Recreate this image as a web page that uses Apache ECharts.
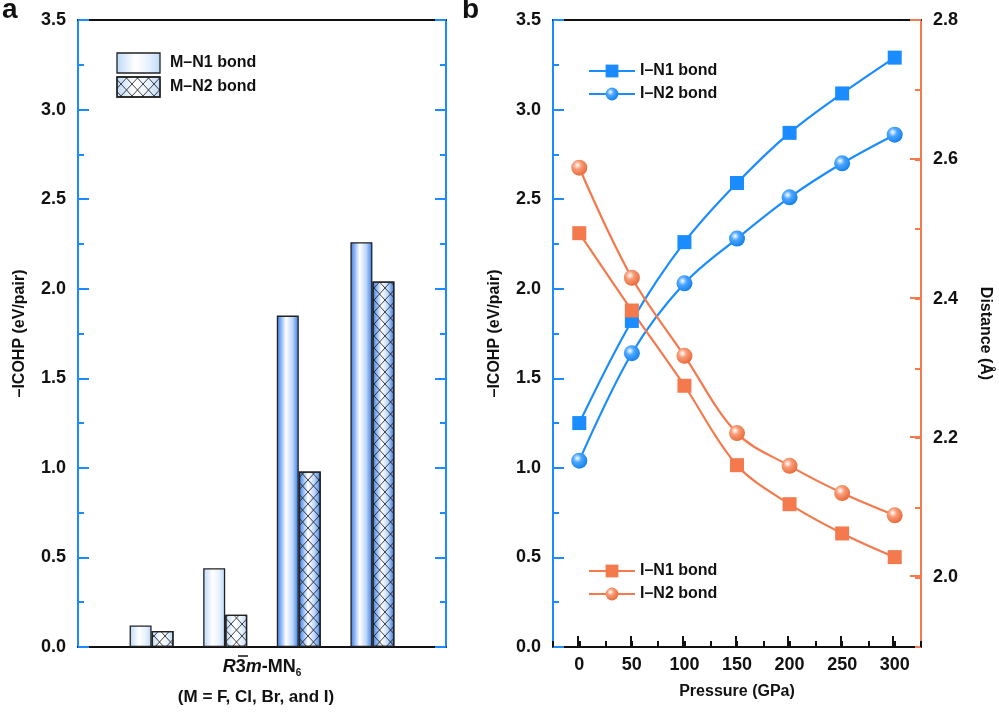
<!DOCTYPE html>
<html><head><meta charset="utf-8">
<script src="https://cdn.jsdelivr.net/npm/echarts@6/dist/echarts.min.js"></script>
<style>html,body{margin:0;padding:0;background:#fff}#c{width:999px;height:712px}</style>
</head><body><div id="c"></div>
<script>
// ---- data ----
const categories = ['F', 'Cl', 'Br', 'I'];
const n1Values = [0.12, 0.44, 1.85, 2.26];
const n2Values = [0.09, 0.18, 0.98, 2.04];
const pressures = [0, 50, 100, 150, 200, 250, 300];
const icohpN1 = [1.25, 1.82, 2.26, 2.59, 2.87, 3.09, 3.29];
const icohpN2 = [1.04, 1.64, 2.03, 2.28, 2.51, 2.70, 2.86];
const distN1 = [2.494, 2.383, 2.275, 2.161, 2.105, 2.063, 2.029];
const distN2 = [2.588, 2.430, 2.318, 2.207, 2.160, 2.121, 2.089];

// ---- styles ----
const BLUE = '#1a8cff', ORANGE = '#f47a4e', FONT = 'Liberation Sans, Arial, sans-serif';
function barGrad(v) {
  const edge = v > 0.5 ? '#2f77e6' : '#bcd8f8';
  const mid = v > 0.5 ? '#bcd6fa' : '#e8f2fd';
  return { type: 'linear', x: 0, y: 0, x2: 1, y2: 0, colorStops: [
    { offset: 0, color: edge }, { offset: 0.42, color: '#ffffff' }, { offset: 0.72, color: mid }, { offset: 1, color: edge }] };
}
const pc = document.createElement('canvas');
pc.width = 11; pc.height = 12;
const pctx = pc.getContext('2d');
pctx.strokeStyle = 'rgba(20,20,20,0.9)'; pctx.lineWidth = 0.9;
pctx.beginPath(); pctx.moveTo(0, 0); pctx.lineTo(11, 12); pctx.moveTo(11, 0); pctx.lineTo(0, 12); pctx.stroke();
const hatch = { image: pc, repeat: 'repeat' };
function sphere(c, dark) {
  return { type: 'radial', x: 0.38, y: 0.35, r: 0.75, colorStops: [
    { offset: 0, color: '#ffffff' }, { offset: 0.35, color: c }, { offset: 1, color: dark }] };
}
const tickLbl = { color: '#111', fontWeight: 'bold', fontSize: 18, fontFamily: FONT };
const nameSt = { color: '#111', fontWeight: 'bold', fontSize: 16, fontFamily: FONT };

const barBase = categories.map((c, i) => i + 1);
function leftY(gridIndex, show) {
  return { type: 'value', gridIndex, min: 0, max: 3.5, interval: 0.5,
    position: show ? 'left' : 'right',
    axisLine: { show: true, onZero: false, lineStyle: { color: BLUE, width: 2 } },
    axisTick: { show: true, inside: true, length: 11, lineStyle: { color: BLUE, width: 2 } },
    minorTick: { show: true, splitNumber: 2, length: 6, lineStyle: { color: BLUE, width: 2 } },
    axisLabel: { show: show, formatter: v => v.toFixed(1), margin: 12, ...tickLbl },
    splitLine: { show: false },
    name: show ? '\u2013ICOHP (eV/pair)' : '', nameLocation: 'middle', nameGap: 50, nameTextStyle: nameSt };
}
const blackX = (gridIndex, position, min, max) => ({ type: 'value', gridIndex, position, min, max,
  axisLine: { show: true, onZero: false, lineStyle: { color: '#111', width: 2 } },
  axisTick: { show: false }, axisLabel: { show: false }, splitLine: { show: false } });

const option = {
  animation: false,
  backgroundColor: '#fff',
  grid: [
    { left: 78, top: 20, width: 368, height: 627 },
    { left: 553, top: 20, width: 368, height: 627 },
    { left: 578, top: 20, width: 315, height: 627 },
    { left: 553, top: 20, width: 368, height: 556 }
  ],
  xAxis: [
    blackX(0, 'bottom', 0, 5),
    blackX(0, 'top', 0, 5),
    Object.assign(blackX(1, 'bottom', -25, 325), {
      interval: 25,
      axisTick: { show: true, inside: true, length: 6, lineStyle: { color: '#111', width: 2 } },
      axisLabel: { show: true, margin: 9, formatter: v => (Math.round(v) % 50 === 0 ? String(Math.round(v)) : ''), ...tickLbl },
      name: 'Pressure (GPa)', nameLocation: 'middle', nameGap: 37, nameTextStyle: nameSt }),
    blackX(1, 'top', -25, 325),
    { type: 'value', gridIndex: 2, min: 0, max: 300, interval: 50, position: 'bottom',
      axisLine: { show: false, onZero: false }, axisLabel: { show: false }, splitLine: { show: false },
      axisTick: { show: true, inside: true, length: 11, lineStyle: { color: '#111', width: 2 } } },
    { type: 'value', gridIndex: 3, min: 0, max: 1, show: false }
  ],
  yAxis: [
    leftY(0, true),
    leftY(0, false),
    leftY(1, true),
    { type: 'value', gridIndex: 1, position: 'right', min: 1.9, max: 2.8, interval: 0.1,
      axisLine: { show: true, onZero: false, lineStyle: { color: ORANGE, width: 2 } },
      axisTick: { show: true, inside: true, length: 6, lineStyle: { color: ORANGE, width: 2 } },
      axisLabel: { show: true, margin: 12, formatter: v => (Math.round(v * 10) % 2 === 0 ? v.toFixed(1) : ''), ...tickLbl },
      splitLine: { show: false },
      name: 'Distance (\u00c5)', nameLocation: 'middle', nameGap: 56, nameRotate: -90, nameTextStyle: nameSt },
    { type: 'value', gridIndex: 2, min: 0, max: 1, show: false },
    { type: 'value', gridIndex: 3, position: 'right', min: 2.0, max: 2.8, interval: 0.2,
      axisLine: { show: false, onZero: false }, axisLabel: { show: false }, splitLine: { show: false },
      axisTick: { show: true, inside: true, length: 11, lineStyle: { color: ORANGE, width: 2 } } }
  ],
  legend: [
    { left: 583, top: 58, orient: 'vertical', itemWidth: 46, itemHeight: 16, itemGap: 7,
      data: ['I\u2013N1 bond', 'I\u2013N2 bond'], textStyle: { ...nameSt, fontSize: 16 } },
    { left: 583, top: 558, orient: 'vertical', itemWidth: 46, itemHeight: 16, itemGap: 7,
      data: ['I\u2013N1 bond ', 'I\u2013N2 bond '], formatter: n => n.trim(), textStyle: { ...nameSt, fontSize: 16 } }
  ],
  series: [
    { name: 'M\u2013N1 bond', type: 'bar', xAxisIndex: 0, yAxisIndex: 0, barWidth: 22, barGap: '0%',
      data: barBase.map((x, i) => ({ value: [x, n1Values[i]], itemStyle: { color: barGrad(n1Values[i]) } })),
      itemStyle: { borderColor: '#222', borderWidth: 1.3 } },
    { name: 'M\u2013N2 bond', type: 'bar', xAxisIndex: 0, yAxisIndex: 0, barWidth: 22, barGap: '0%',
      data: barBase.map((x, i) => ({ value: [x, n2Values[i]], itemStyle: { color: barGrad(n2Values[i]) } })),
      itemStyle: { borderColor: '#222', borderWidth: 1.3 } },
    { name: 'slot', type: 'bar', xAxisIndex: 1, yAxisIndex: 0, barWidth: 22, barGap: '0%', silent: true,
      data: barBase.map((x, i) => [x, n1Values[i]]), itemStyle: { color: 'rgba(0,0,0,0)' } },
    { name: 'hatch', type: 'bar', xAxisIndex: 1, yAxisIndex: 0, barWidth: 22, barGap: '0%', silent: true,
      data: barBase.map((x, i) => [x, n2Values[i]]), itemStyle: { color: hatch, borderColor: '#222', borderWidth: 1.3 } },
    { name: 'I\u2013N1 bond', type: 'line', xAxisIndex: 2, yAxisIndex: 2, smooth: 0.35,
      data: pressures.map((p, i) => [p, icohpN1[i]]), symbol: 'rect', symbolSize: 14,
      lineStyle: { color: BLUE, width: 2.2 }, itemStyle: { color: BLUE } },
    { name: 'I\u2013N2 bond', type: 'line', xAxisIndex: 2, yAxisIndex: 2, smooth: 0.35,
      data: pressures.map((p, i) => [p, icohpN2[i]]), symbol: 'circle', symbolSize: 16,
      lineStyle: { color: BLUE, width: 2.2 }, itemStyle: { color: sphere('#4aa6ff', '#0a78e8') } },
    { name: 'I\u2013N1 bond ', type: 'line', xAxisIndex: 2, yAxisIndex: 3, smooth: 0.35,
      data: pressures.map((p, i) => [p, distN1[i]]), symbol: 'rect', symbolSize: 14,
      lineStyle: { color: ORANGE, width: 2.2 }, itemStyle: { color: ORANGE } },
    { name: 'I\u2013N2 bond ', type: 'line', xAxisIndex: 2, yAxisIndex: 3, smooth: 0.35,
      data: pressures.map((p, i) => [p, distN2[i]]), symbol: 'circle', symbolSize: 16,
      lineStyle: { color: ORANGE, width: 2.2 }, itemStyle: { color: sphere('#f79a74', '#e8602f') } }
  ],
  graphic: [
    { type: 'text', x: 2, y: -4, style: { text: 'a', fontSize: 28, fontWeight: 'bold', fontFamily: FONT, fill: '#111' } },
    { type: 'text', x: 462, y: -4, style: { text: 'b', fontSize: 28, fontWeight: 'bold', fontFamily: FONT, fill: '#111' } },
    // legend for panel a
    { type: 'rect', shape: { x: 117, y: 53, width: 43, height: 20 }, style: { fill: barGrad(0.1), stroke: '#222', lineWidth: 1.3 } },
    { type: 'rect', shape: { x: 117, y: 77, width: 43, height: 20 }, style: { fill: barGrad(0.1), stroke: '#222', lineWidth: 1.3 } },
    { type: 'rect', shape: { x: 117, y: 77, width: 43, height: 20 }, style: { fill: hatch, stroke: '#222', lineWidth: 1.3 } },
    { type: 'text', x: 170, y: 63, style: { text: 'M\u2013N1 bond', fontSize: 16, fontWeight: 'bold', fontFamily: FONT, fill: '#111', verticalAlign: 'middle' } },
    { type: 'text', x: 170, y: 87, style: { text: 'M\u2013N2 bond', fontSize: 16, fontWeight: 'bold', fontFamily: FONT, fill: '#111', verticalAlign: 'middle' } },
    { type: 'text', x: 262, y: 667, style: {
        text: '{i|R}{n|3}{i|m}{n|-MN}{s|6}', align: 'center', verticalAlign: 'middle',
        rich: {
          i: { fontStyle: 'italic', fontWeight: 'bold', fontSize: 18, fontFamily: FONT, fill: '#111' },
          n: { fontWeight: 'bold', fontSize: 18, fontFamily: FONT, fill: '#111' },
          s: { fontWeight: 'bold', fontSize: 10, fontFamily: FONT, fill: '#111', padding: [12, 0, 0, 0] }
        } } },
    { type: 'line', shape: { x1: 238, y1: 656, x2: 248, y2: 656 }, style: { stroke: '#111', lineWidth: 1.5 } },
    { type: 'text', x: 256, y: 697, style: { text: '(M = F, Cl, Br, and I)', align: 'center', verticalAlign: 'middle', fontSize: 17, fontWeight: 'bold', fontFamily: FONT, fill: '#111' } }
  ]
};
const chart = echarts.init(document.getElementById('c'), null, { renderer: 'canvas' });
chart.setOption(option);
</script>
</body></html>
